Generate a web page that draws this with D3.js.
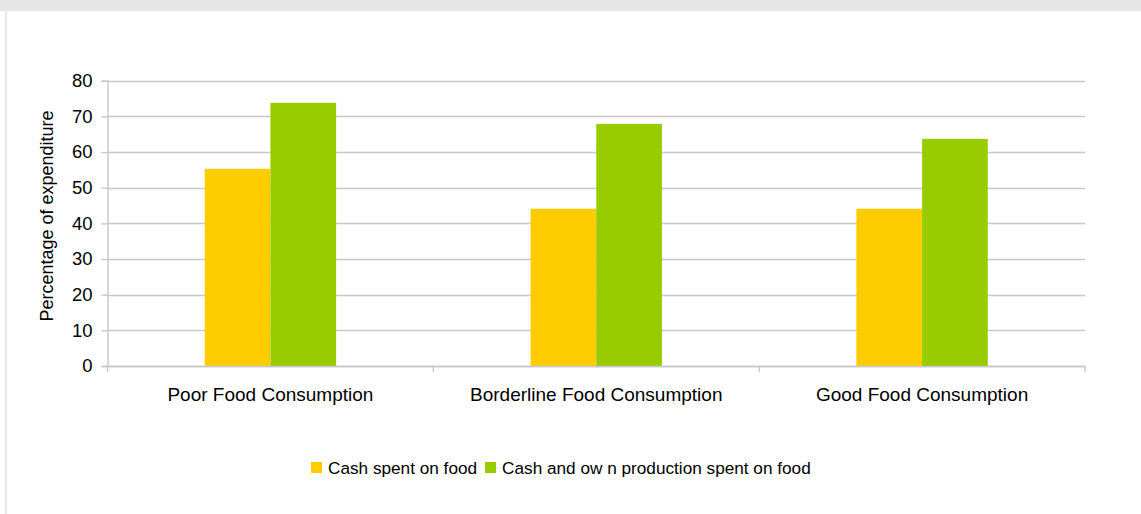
<!DOCTYPE html>
<html>
<head>
<meta charset="utf-8">
<script src="https://cdn.jsdelivr.net/npm/d3@7"></script>
<style>
  html, body { margin: 0; padding: 0; background: #ffffff; }
  svg { display: block; font-family: "Liberation Sans", Arial, sans-serif; }
</style>
</head>
<body>
<svg id="chart" width="1141" height="514"></svg>
<script>
// Food expenditure share by food consumption group
const categories = ["Poor Food Consumption", "Borderline Food Consumption", "Good Food Consumption"];
const seriesNames = ["Cash spent on food", "Cash and ow n production spent on food"];
const cashSpent = [55.3, 44.1, 44.1];
const cashAndOwnProduction = [73.8, 67.9, 63.7];
const yTicks = [0, 10, 20, 30, 40, 50, 60, 70, 80];
const colors = ["#ffcc00", "#99cc00"];

const svg = d3.select("#chart");
const W = 1141, H = 514;

// frame: grey band along the top and a thin border on the left
svg.append("rect").attr("x", 0).attr("y", 0).attr("width", W).attr("height", 11).attr("fill", "#e6e6e6");
svg.append("rect").attr("x", 5).attr("y", 11).attr("width", 2).attr("height", H - 11).attr("fill", "#e6e6e6");

const plot = { left: 107.5, right: 1085, top: 80.7, bottom: 366 };

const x0 = d3.scaleBand().domain(categories).range([plot.left, plot.right]).paddingInner(0).paddingOuter(0);
const x1 = d3.scaleBand().domain(seriesNames).range([0, x0.bandwidth()]).paddingInner(0).paddingOuter(1.48);
const y = d3.scaleLinear().domain([0, 80]).range([plot.bottom, plot.top]);

const gridColor = "#c8c8c8";

// horizontal gridlines
svg.append("g").selectAll("line").data(yTicks).join("line")
  .attr("x1", plot.left).attr("x2", plot.right)
  .attr("y1", d => Math.round(y(d)) + 0.5).attr("y2", d => Math.round(y(d)) + 0.5)
  .attr("stroke", gridColor).attr("stroke-width", 1.4);

// y axis
const yAxis = svg.append("g").attr("transform", `translate(${plot.left},0)`)
  .call(d3.axisLeft(y).tickValues(yTicks).tickSize(6).tickPadding(9));
yAxis.select(".domain").attr("stroke", gridColor).attr("stroke-width", 1.4);
yAxis.selectAll(".tick line").attr("stroke", gridColor).attr("stroke-width", 1.4);
yAxis.selectAll(".tick text").attr("font-size", 18.5).attr("fill", "#000")
  .attr("font-family", "'Liberation Sans', Arial, sans-serif");

// bars
const data = categories.map((c, i) => ({ c, vals: [cashSpent[i], cashAndOwnProduction[i]] }));
const groups = svg.append("g").selectAll("g").data(data).join("g")
  .attr("transform", d => `translate(${x0(d.c)},0)`);
groups.selectAll("rect").data(d => d.vals.map((v, k) => ({ k, v }))).join("rect")
  .attr("x", d => x1(seriesNames[d.k]))
  .attr("width", x1.bandwidth())
  .attr("y", d => y(d.v))
  .attr("height", d => y(0) - y(d.v))
  .attr("fill", d => colors[d.k]);

// x axis with category separators
const xAxis = svg.append("g").attr("transform", `translate(0,${plot.bottom})`);
xAxis.append("line").attr("x1", plot.left).attr("x2", plot.right)
  .attr("y1", 0.5).attr("y2", 0.5).attr("stroke", gridColor).attr("stroke-width", 1.4);
const seps = categories.map(c => x0(c)).concat([plot.right]);
xAxis.selectAll("line.sep").data(seps).join("line").attr("class", "sep")
  .attr("x1", d => d).attr("x2", d => d).attr("y1", 0).attr("y2", 6)
  .attr("stroke", gridColor).attr("stroke-width", 1.4);
xAxis.selectAll("text").data(categories).join("text")
  .attr("x", d => x0(d) + x0.bandwidth() / 2).attr("y", 35)
  .attr("text-anchor", "middle").attr("font-size", 19).attr("fill", "#000")
  .text(d => d);

// y axis title
svg.append("text")
  .attr("transform", "translate(53,216) rotate(-90)")
  .attr("text-anchor", "middle").attr("font-size", 18).attr("fill", "#000")
  .text("Percentage of expenditure");

// legend
const legend = svg.append("g").attr("transform", "translate(311,462)");
let lx = 0;
seriesNames.forEach((name, i) => {
  const g = legend.append("g").attr("transform", `translate(${lx},0)`);
  g.append("rect").attr("width", 11).attr("height", 11).attr("fill", colors[i]);
  const t = g.append("text").attr("x", 17).attr("y", 11.5).attr("font-size", 17.2).attr("fill", "#000").text(name);
  lx += 17 + t.node().getComputedTextLength() + 8;
});
</script>
</body>
</html>
